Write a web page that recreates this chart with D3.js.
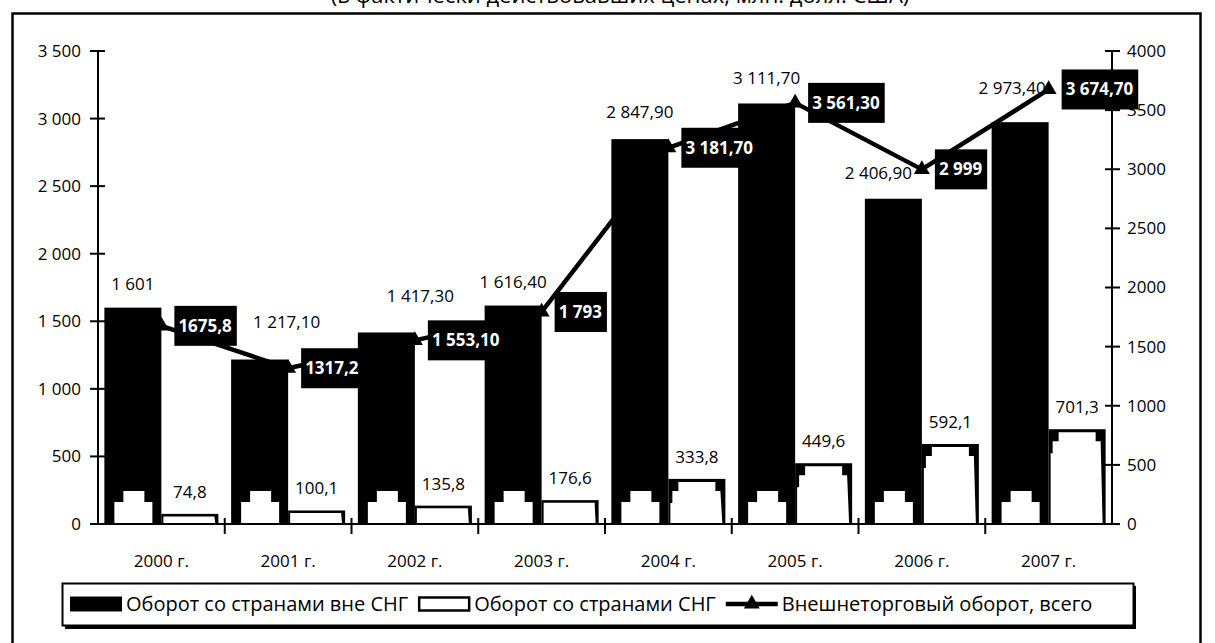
<!DOCTYPE html>
<html><head><meta charset="utf-8">
<script src="https://cdn.jsdelivr.net/npm/d3@7"></script>
<style>
body{margin:0;background:#fff;}
svg{display:block;font-family:"Open Sans",sans-serif;}
</style></head>
<body><svg id="c" width="1215" height="643"></svg>
<script>
const categories = ["2000 г.","2001 г.","2002 г.","2003 г.","2004 г.","2005 г.","2006 г.","2007 г."];
const outsideCIS = [1601, 1217.1, 1417.3, 1616.4, 2847.9, 3111.7, 2406.9, 2973.4];
const insideCIS = [74.8, 100.1, 135.8, 176.6, 333.8, 449.6, 592.1, 701.3];
const totalTrade = [1675.8, 1317.2, 1553.1, 1793, 3181.7, 3561.3, 2999, 3674.7];
const outsideLabels = ["1 601","1 217,10","1 417,30","1 616,40","2 847,90","3 111,70","2 406,90","2 973,40"];
const insideLabels = ["74,8","100,1","135,8","176,6","333,8","449,6","592,1","701,3"];
const totalLabels = ["1675,8","1317,2","1 553,10","1 793","3 181,70","3 561,30","2 999","3 674,70"];
const leftTicks = [0,500,1000,1500,2000,2500,3000,3500];
const rightTicks = [0,500,1000,1500,2000,2500,3000,3500,4000];
const seriesNames = ["Оборот со странами вне СНГ","Оборот со странами СНГ","Внешнеторговый оборот, всего"];
const titleText = "(в фактически действовавших ценах, млн. долл. США)";

// layout: manual nudges of the outside-CIS value labels (as placed in the original)
const labelNudgeX = [0, 27, 34, 0, 0, 0, -15, -8];
const labelGapY = [24, 37, 36, 24, 27, 25, 26, 34];

const svg = d3.select("#c");
const X0 = 98, X1 = 1112, Y0 = 524, Y1 = 51;
const x = d3.scaleBand().domain(categories).range([X0, X1]);
const xs = d3.scaleBand().domain(["out","in"]).range([0, x.bandwidth()]).paddingOuter(0.1118);
const yL = d3.scaleLinear().domain([0,3500]).range([Y0,Y1]);
const yR = d3.scaleLinear().domain([0,4000]).range([Y0,Y1]);
const bw = xs.bandwidth();
const fmtL = v => d3.format(",")(v).replace(/,/g," ");

svg.append("text").attr("x",620).attr("y",3).attr("text-anchor","middle")
  .attr("font-size",22).text(titleText);
svg.append("rect").attr("x",12.5).attr("y",13.5).attr("width",1188).attr("height",640)
  .attr("fill","none").attr("stroke","#000").attr("stroke-width",2.5);

const g = svg.append("g");
categories.forEach((c,i)=>{
  const x0 = x(c)+xs("out"), top = yL(outsideCIS[i]);
  g.append("rect").attr("x",x0).attr("y",top).attr("width",bw).attr("height",Y0-top).attr("fill","#000");
  const p = d3.path();
  p.moveTo(x0+19, Y0-33); p.lineTo(x0+bw-17, Y0-33); p.lineTo(x0+bw-17, Y0-22);
  p.lineTo(x0+bw-9, Y0-22); p.lineTo(x0+bw-9, Y0); p.lineTo(x0+10, Y0); p.lineTo(x0+10, Y0-22);
  p.lineTo(x0+19, Y0-22); p.closePath();
  g.append("path").attr("d",p.toString()).attr("fill","#fff");
});
categories.forEach((c,i)=>{
  const x0 = x(c)+xs("in"), x1 = x0+bw, top = yL(insideCIS[i]), h = Y0-top;
  g.append("rect").attr("x",x0).attr("y",top).attr("width",bw).attr("height",h).attr("fill","#000");
  const p = d3.path();
  if (h < 30) {
    p.moveTo(x0+2, top+2.5); p.lineTo(x1-4, top+2.5); p.lineTo(x1-3, Y0); p.lineTo(x0+2, Y0); p.closePath();
  } else {
    p.moveTo(x0+10, top+3); p.lineTo(x1-10, top+3); p.lineTo(x1-10, top+12); p.lineTo(x1-5, top+12);
    p.lineTo(x1-3, Y0); p.lineTo(x0+2, Y0); p.lineTo(x0+2, top+24); p.lineTo(x0+4, top+24);
    p.lineTo(x0+4, top+12); p.lineTo(x0+10, top+12); p.closePath();
  }
  g.append("path").attr("d",p.toString()).attr("fill","#fff");
});

const ax = svg.append("g").attr("stroke","#000").attr("stroke-width",2);
ax.append("line").attr("x1",X0).attr("x2",X0).attr("y1",Y1).attr("y2",Y0+1);
ax.append("line").attr("x1",X1).attr("x2",X1).attr("y1",Y1).attr("y2",Y0+1);
ax.append("line").attr("x1",X0).attr("x2",X1).attr("y1",Y0).attr("y2",Y0);
leftTicks.forEach(t=>ax.append("line").attr("x1",X0-8).attr("x2",X0+7).attr("y1",yL(t)).attr("y2",yL(t)));
rightTicks.forEach(t=>ax.append("line").attr("x1",X1-7).attr("x2",X1+8).attr("y1",yR(t)).attr("y2",yR(t)));
categories.forEach((c,i)=>{ if(i>0) ax.append("line").attr("x1",x(c)).attr("x2",x(c)).attr("y1",Y0-6).attr("y2",Y0+10); });

const tf = 17;
svg.append("g").selectAll("text").data(leftTicks).join("text")
  .attr("x",81).attr("y",d=>yL(d)).attr("dy","0.35em").attr("text-anchor","end")
  .attr("font-size",tf).text(fmtL);
svg.append("g").selectAll("text").data(rightTicks).join("text")
  .attr("x",1127).attr("y",d=>yR(d)).attr("dy","0.35em").attr("text-anchor","start")
  .attr("font-size",tf).text(d=>d);
svg.append("g").selectAll("text").data(categories).join("text")
  .attr("x",d=>x(d)+x.bandwidth()/2).attr("y",561).attr("dy","0.35em").attr("text-anchor","middle")
  .attr("font-size",tf).text(d=>d);

categories.forEach((c,i)=>{
  svg.append("text").attr("x",x(c)+xs("out")+bw/2+labelNudgeX[i]).attr("y",yL(outsideCIS[i])-labelGapY[i]).attr("dy","0.35em")
    .attr("text-anchor","middle").attr("font-size",tf).text(outsideLabels[i]);
  svg.append("text").attr("x",x(c)+xs("in")+bw/2).attr("y",yL(insideCIS[i])-22).attr("dy","0.35em")
    .attr("text-anchor","middle").attr("font-size",tf).text(insideLabels[i]);
});

const cx = c => x(c)+x.bandwidth()/2;
const line = d3.line().x((d,i)=>cx(categories[i])).y(d=>yR(d));
svg.append("path").attr("d",line(totalTrade)).attr("fill","none").attr("stroke","#000").attr("stroke-width",4.5).attr("stroke-linejoin","round");
const tri = d3.symbol().type(d3.symbolTriangle).size(110);
svg.append("g").selectAll("path").data(totalTrade).join("path")
  .attr("transform",(d,i)=>`translate(${cx(categories[i])},${yR(d)})`).attr("d",tri()).attr("fill","#000");

totalTrade.forEach((v,i)=>{
  const gx = svg.append("g");
  const t = gx.append("text").attr("x",cx(categories[i])+17).attr("y",yR(v)).attr("dy","0.35em")
    .attr("font-size",tf).attr("font-weight","bold").attr("fill","#fff").text(totalLabels[i]);
  const w = t.node().getComputedTextLength();
  gx.insert("rect","text").attr("x",cx(categories[i])+13).attr("y",yR(v)-20).attr("width",w+9).attr("height",40).attr("fill","#000");
});

const lg = svg.append("g");
lg.append("rect").attr("x",65).attr("y",586).attr("width",1071).attr("height",43).attr("fill","#000");
lg.append("rect").attr("x",62.5).attr("y",583.5).attr("width",1071).attr("height",42).attr("fill","#fff").attr("stroke","#000").attr("stroke-width",2);
const lf = 20;
let lx = 70; const ly = 604;
lg.append("rect").attr("x",lx).attr("y",ly-7.5).attr("width",52).attr("height",15).attr("fill","#000");
let t1 = lg.append("text").attr("x",lx+56).attr("y",ly).attr("dy","0.35em").attr("font-size",lf).text(seriesNames[0]);
lx = lx+56+t1.node().getComputedTextLength()+10;
lg.append("rect").attr("x",lx+1).attr("y",ly-6.5).attr("width",50).attr("height",13).attr("fill","#fff").attr("stroke","#000").attr("stroke-width",2.5);
let t2 = lg.append("text").attr("x",lx+56).attr("y",ly).attr("dy","0.35em").attr("font-size",lf).text(seriesNames[1]);
lx = lx+56+t2.node().getComputedTextLength()+10;
lg.append("line").attr("x1",lx).attr("x2",lx+52).attr("y1",ly).attr("y2",ly).attr("stroke","#000").attr("stroke-width",4.5);
lg.append("path").attr("transform",`translate(${lx+26},${ly})`).attr("d",tri()).attr("fill","#000");
lg.append("text").attr("x",lx+56).attr("y",ly).attr("dy","0.35em").attr("font-size",lf).text(seriesNames[2]);
</script></body></html>
